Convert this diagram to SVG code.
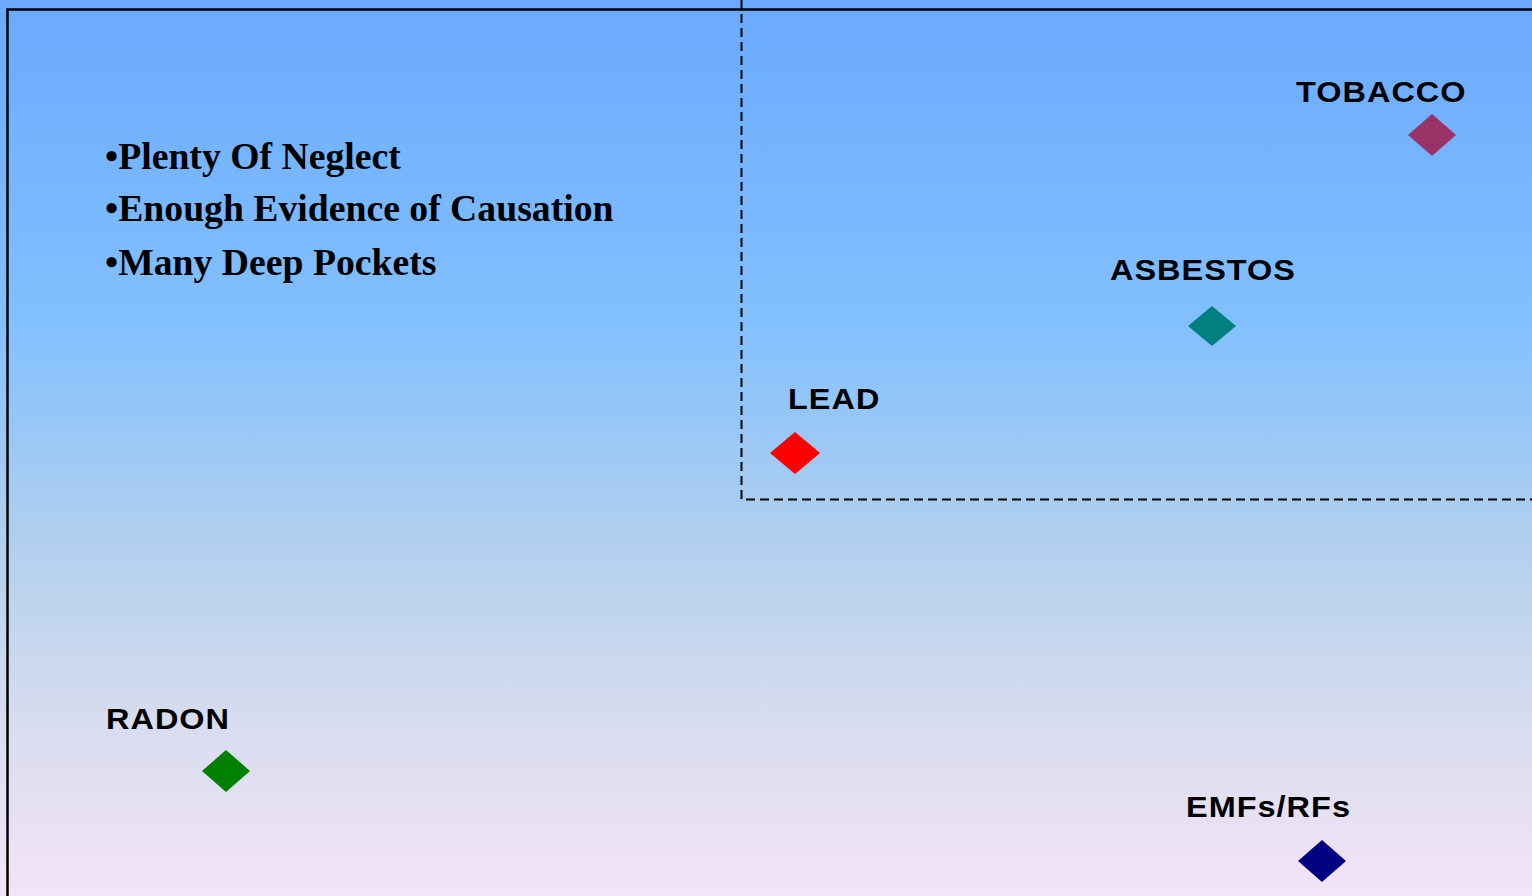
<svg xmlns="http://www.w3.org/2000/svg" width="1532" height="896" viewBox="0 0 1532 896">
  <defs>
    <linearGradient id="bg" x1="0" y1="0" x2="0" y2="1">
      <stop offset="0" stop-color="#6aa9ff"/>
      <stop offset="0.36" stop-color="#82c0ff"/>
      <stop offset="0.6" stop-color="#b0cfee"/>
      <stop offset="0.8" stop-color="#d7dcef"/>
      <stop offset="1" stop-color="#f3e4f6"/>
    </linearGradient>
    <style>
      .label { font-family: "Liberation Sans", Arial, sans-serif; font-weight: bold; font-size: 29px; letter-spacing: 0.9px; fill: #000; }
      .bullet { font-family: "Liberation Serif", "Times New Roman", serif; font-weight: bold; font-size: 37.7px; fill: #000; }
      .frame { fill: none; stroke: #000; stroke-width: 2.5; }
      .quad { fill: none; stroke: #000; stroke-width: 2; stroke-dasharray: 9 5; }
    </style>
  </defs>

  <!-- background and plot frame -->
  <rect x="0" y="0" width="1532" height="896" fill="url(#bg)"/>
  <path class="frame" d="M7.5 900 V9.5 H1540"/>

  <!-- upper-right quadrant boundary -->
  <g id="connectors">
    <path class="quad" d="M741.5 0 V499.5 H1532"/>
  </g>

  <!-- criteria list -->
  <g id="criteria">
    <text class="bullet" x="105" y="169">•Plenty Of Neglect</text>
    <text class="bullet" x="105" y="221">•Enough Evidence of Causation</text>
    <text class="bullet" x="105" y="275">•Many Deep Pockets</text>
  </g>

  <!-- data points; labels use a slightly widened face -->
  <g id="tobacco">
    <text class="label" transform="translate(1296 102) scale(1.12 1)">TOBACCO</text>
    <polygon points="1432,114 1456,135 1432,156 1408,135" fill="#993366"/>
  </g>
  <g id="asbestos">
    <text class="label" transform="translate(1110 280) scale(1.12 1)">ASBESTOS</text>
    <polygon points="1212,306 1236,326 1212,346 1188,326" fill="#008080"/>
  </g>
  <g id="lead">
    <text class="label" transform="translate(788 409) scale(1.12 1)">LEAD</text>
    <polygon points="795,432 820,453 795,474 770,453" fill="#ff0000"/>
  </g>
  <g id="radon">
    <text class="label" transform="translate(106 729) scale(1.12 1)">RADON</text>
    <polygon points="226,750 250,771 226,792 202,771" fill="#008000"/>
  </g>
  <g id="emfs">
    <text class="label" transform="translate(1186 817) scale(1.12 1)">EMFs/RFs</text>
    <polygon points="1322,840 1346,861 1322,882 1298,861" fill="#000080"/>
  </g>
</svg>
